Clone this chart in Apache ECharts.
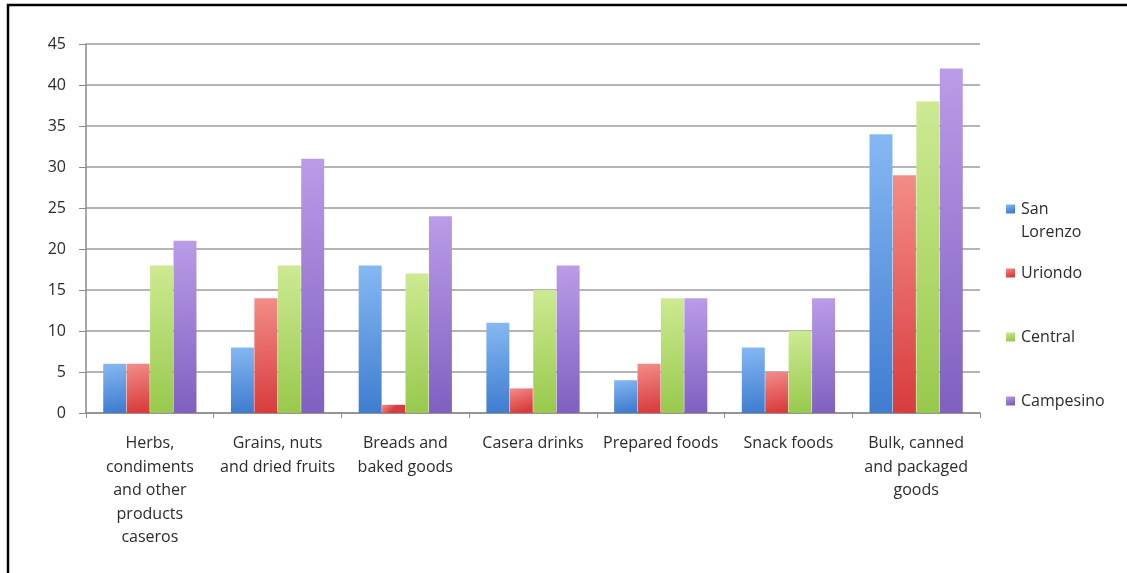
<!DOCTYPE html>
<html>
<head>
<meta charset="utf-8">
<script src="https://cdn.jsdelivr.net/npm/echarts@6/dist/echarts.min.js"></script>
<style>
  html, body { margin: 0; padding: 0; background: #fff; }
  #chart { width: 1127px; height: 573px; }
</style>
</head>
<body>
<div id="chart"></div>
<script>
// Product categories on the x axis, with the line breaks used in their tick labels
const categories = [
  'Herbs,\ncondiments\nand other\nproducts\ncaseros',
  'Grains, nuts\nand dried fruits',
  'Breads and\nbaked goods',
  'Casera drinks',
  'Prepared foods',
  'Snack foods',
  'Bulk, canned\nand packaged\ngoods'
];

// Counts per market
const sanLorenzo = [6, 8, 18, 11, 4, 8, 34];
const uriondo    = [6, 14, 1, 3, 6, 5, 29];
const central    = [18, 18, 17, 15, 14, 10, 38];
const campesino  = [21, 31, 24, 18, 14, 14, 42];

const seriesNames = ['San Lorenzo', 'Uriondo', 'Central', 'Campesino'];
const seriesValues = [sanLorenzo, uriondo, central, campesino];

// Top/bottom shades for each series' bar gradient
const shades = [
  ['#86b8f2', '#3f7dd0'],
  ['#f38c88', '#d83c3c'],
  ['#cdea92', '#98c94c'],
  ['#ba9ce8', '#8060c0']
];

const FONT = 'Open Sans';
const FONT_SIZE = 16;
const TEXT = '#2b2b2b';
const LINE_H = 23.5;

function gradient(pair) {
  return new echarts.graphic.LinearGradient(0, 0, 0.35, 1, [
    { offset: 0, color: pair[0] },
    { offset: 1, color: pair[1] }
  ]);
}

// One legend block per series, stacked down the right side.
// Two-word names wrap onto a second line; a leading blank line keeps
// the swatch level with the first word.
const legendCenters = [209, 273, 337, 401];
const legends = seriesNames.map((name, i) => {
  const lines = name.includes(' ') ? ['', ...name.split(' ')] : [name];
  const blockH = lines.length * LINE_H;
  return {
    orient: 'vertical',
    left: 1006,
    top: legendCenters[i] - blockH / 2,
    padding: 0,
    itemWidth: 9,
    itemHeight: 9,
    itemGap: 0,
    icon: 'rect',
    formatter: () => lines.join('\n'),
    textStyle: { fontFamily: FONT, fontSize: FONT_SIZE, color: TEXT, lineHeight: LINE_H, padding: [0, 0, 0, 1] },
    data: [name]
  };
});

const chart = echarts.init(document.getElementById('chart'), null, { renderer: 'canvas' });

chart.setOption({
  animation: false,
  backgroundColor: '#ffffff',
  textStyle: { fontFamily: FONT },
  graphic: [{
    type: 'rect',
    silent: true,
    shape: { x: 8, y: 5, width: 1300, height: 800 },
    style: { fill: 'none', stroke: '#000', lineWidth: 2.5 }
  }],
  grid: { left: 86, right: 147, top: 44, bottom: 160, containLabel: false },
  legend: legends,
  xAxis: {
    type: 'category',
    data: categories,
    axisLine: { lineStyle: { color: '#8a8a8a', width: 1.5 } },
    axisTick: { show: true, length: 5, alignWithLabel: false, lineStyle: { color: '#8a8a8a' } },
    axisLabel: {
      interval: 0,
      margin: 19,
      fontFamily: FONT,
      fontSize: FONT_SIZE,
      color: TEXT,
      lineHeight: LINE_H
    }
  },
  yAxis: {
    type: 'value',
    min: 0,
    max: 45,
    interval: 5,
    axisLine: { show: true, lineStyle: { color: '#8a8a8a', width: 1.5 } },
    axisTick: { show: true, length: 7, lineStyle: { color: '#8a8a8a' } },
    axisLabel: { fontFamily: FONT, fontSize: FONT_SIZE, color: TEXT, margin: 20 },
    splitLine: { lineStyle: { color: '#9c9c9c', width: 1.5 } }
  },
  series: seriesNames.map((name, i) => ({
    name,
    type: 'bar',
    data: seriesValues[i],
    barGap: '2%',
    barCategoryGap: '27%',
    color: shades[i][1],
    itemStyle: { color: gradient(shades[i]) }
  }))
});
</script>
</body>
</html>
